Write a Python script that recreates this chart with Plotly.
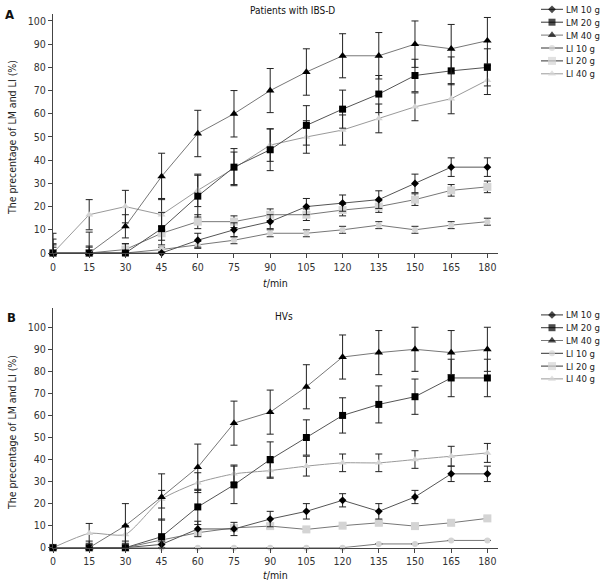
import plotly.graph_objects as go

# ---------------- data ----------------
time_min = [0, 15, 30, 45, 60, 75, 90, 105, 120, 135, 150, 165, 180]
series_names = ["LM 10 g", "LM 20 g", "LM 40 g", "LI 10 g", "LI 20 g", "LI 40 g"]

# Panel A: patients with IBS-D (mean, SD)
ibs_lm10 = [0, 0, 0, 0, 5.5, 10, 13.5, 20, 21.5, 23, 30, 37, 37]
ibs_lm10_sd = [2.5, 0, 0, 0, 3, 3, 3, 3.5, 3.5, 3.8, 4, 4, 4]
ibs_lm20 = [0, 0, 0, 10.5, 24.5, 37, 44.5, 55, 62, 68.5, 76.5, 78.5, 80]
ibs_lm20_sd = [4, 3, 4, 7, 9, 8, 9, 8.5, 8.2, 8, 7, 6, 8]
ibs_lm40 = [0, 0, 11.5, 33, 51.5, 60, 70, 78, 85, 85, 90, 88, 91.5]
ibs_lm40_sd = [6, 9, 5, 10, 10, 10, 9.5, 10, 9.5, 10, 10, 10.5, 10]
ibs_li10 = [0, 0, 0, 1.5, 3.5, 5.5, 8.5, 8.5, 10, 12, 10, 12, 13.5]
ibs_li10_sd = [0, 0, 0, 1, 1.5, 1.5, 1.5, 1.5, 1.5, 1.5, 1.5, 1.5, 1.5]
ibs_li20 = [0, 0, 1.5, 8.5, 13.5, 13.5, 16.5, 16.5, 18.5, 20, 23, 27, 28.5]
ibs_li20_sd = [3.5, 2.5, 2.5, 3, 3, 2.5, 2.5, 2.5, 2.5, 2.5, 2.5, 2.5, 2.5]
ibs_li40 = [0, 16.5, 20, 16.5, 27, 36.5, 46.5, 50, 53, 58, 63, 66.5, 74.5]
ibs_li40_sd = [8.5, 6.5, 7, 7, 7, 7, 7, 7, 6.5, 6.2, 6, 6.5, 6.2]

# Panel B: healthy volunteers (mean, SD)
hv_lm10 = [0, 0, 0, 1.5, 8.5, 8.5, 13, 16.5, 21.5, 16.5, 23, 33.5, 33.5]
hv_lm10_sd = [0, 3, 3, 1.5, 3.5, 3, 3.5, 3.5, 3, 3.5, 3, 3.5, 3.5]
hv_lm20 = [0, 0, 0, 5, 18.5, 28.5, 40, 50, 60, 65, 68.5, 77, 77]
hv_lm20_sd = [0, 0, 0, 8, 8, 8.5, 8, 8, 8, 8.4, 8, 8.5, 8.5]
hv_lm40 = [0, 0, 10, 23, 36.5, 56.5, 61.5, 73, 86.5, 88.5, 90, 88.5, 90]
hv_lm40_sd = [0, 0, 10, 10.5, 10.5, 10, 10, 10, 10, 10, 10, 10, 10]
hv_li10 = [0, 0, 0, 0, 0, 0, 0, 0, 0, 1.7, 1.7, 3.3, 3.3]
hv_li10_sd = [0, 0, 0, 0, 0, 0, 0, 0, 0, 0, 0, 0, 0]
hv_li20 = [0, 0, 0, 3.5, 6.8, 9, 9.8, 8.3, 10, 11.3, 9.8, 11.3, 13.3]
hv_li20_sd = [0, 0, 0, 1, 1, 1, 1, 1, 1, 1, 1, 1, 1]
hv_li40 = [0, 6.5, 6, 22, 29.5, 33.5, 35, 37, 38.5, 38.5, 40, 41.5, 43]
hv_li40_sd = [0, 4.5, 4, 4, 4.5, 4, 3.5, 4.5, 4, 4, 4, 4.5, 4.3]

y_ticks = list(range(0, 101, 10))

# ---------------- styles ----------------
FONT = "DejaVu Sans Condensed, DejaVu Sans, sans-serif"
styles = [
    dict(symbol="diamond", size=6, color="#000000", line="#555555"),
    dict(symbol="square", size=7, color="#000000", line="#555555"),
    dict(symbol="triangle-up", size=7.5, color="#000000", line="#777777"),
    dict(symbol="circle", size=6, color="#d4d4d4", line="#777777"),
    dict(symbol="square", size=8, color="#d4d4d4", line="#777777"),
    dict(symbol="triangle-up", size=7, color="#d4d4d4", line="#9a9a9a"),
]

panels = [
    ("x", "y", [(ibs_lm10, ibs_lm10_sd), (ibs_lm20, ibs_lm20_sd), (ibs_lm40, ibs_lm40_sd),
                (ibs_li10, ibs_li10_sd), (ibs_li20, ibs_li20_sd), (ibs_li40, ibs_li40_sd)], False),
    ("x2", "y2", [(hv_lm10, hv_lm10_sd), (hv_lm20, hv_lm20_sd), (hv_lm40, hv_lm40_sd),
                  (hv_li10, hv_li10_sd), (hv_li20, hv_li20_sd), (hv_li40, hv_li40_sd)], True),
]

fig = go.Figure()
draw_order = [3, 4, 5, 0, 1, 2]
for xa, ya, data, smooth_li40 in panels:
    for i in draw_order:
        vals, sd = data[i]
        st = styles[i]
        shape = "spline" if (smooth_li40 and i == 5) else "linear"
        fig.add_trace(go.Scatter(
            x=time_min, y=vals, xaxis=xa, yaxis=ya, mode="lines+markers",
            name=series_names[i], showlegend=False, cliponaxis=False,
            line=dict(color=st["line"], width=1, shape=shape, smoothing=0.6),
            marker=dict(symbol=st["symbol"], size=st["size"], color=st["color"],
                        line=dict(width=0)),
            error_y=dict(type="data", array=sd, visible=True, color="#222222",
                         thickness=1, width=3.5),
        ))

# custom legends (one per panel) on helper axes
for xa, ya in [("x3", "y3"), ("x4", "y4")]:
    for i, name in enumerate(series_names):
        st = styles[i]
        fig.add_trace(go.Scatter(
            x=[6, 17, 28], y=[i, i, i], xaxis=xa, yaxis=ya, mode="lines+markers",
            showlegend=False, hoverinfo="skip", cliponaxis=False,
            line=dict(color=st["line"] if i in (2, 5) else "#333333", width=1),
            marker=dict(symbol=st["symbol"], size=[0, st["size"], 0], color=st["color"],
                        line=dict(width=0)),
        ))
        fig.add_annotation(x=30, y=i, xref=xa, yref=ya, text=name, showarrow=False,
                           xanchor="left", yanchor="middle", borderpad=0,
                           font=dict(family=FONT, size=9.5, color="#222222"))

W, H = 609, 587
def py(p):
    return 1 - p / H

axis_common = dict(showline=True, linecolor="#444444", linewidth=1, ticks="outside",
                   ticklen=4, tickcolor="#444444", showgrid=False, zeroline=False,
                   automargin=False,
                   tickfont=dict(family=FONT, size=10.5, color="#333333"))
xdom = [53 / W, 498 / W]
fig.update_layout(
    template="none",
    width=W, height=H, margin=dict(l=0, r=0, t=0, b=0, autoexpand=False),
    paper_bgcolor="white", plot_bgcolor="white",
    xaxis=dict(domain=xdom, anchor="y", range=[0, 184.4], tickvals=time_min, **axis_common),
    yaxis=dict(domain=[py(253), py(14)], anchor="x", range=[0, 103], tickvals=y_ticks, **axis_common),
    xaxis2=dict(domain=xdom, anchor="y2", range=[0, 184.4], tickvals=time_min, **axis_common),
    yaxis2=dict(domain=[py(547.7), py(308.3)], anchor="x2", range=[0, 108.6], tickvals=y_ticks, **axis_common),
    xaxis3=dict(domain=[535 / W, 1], anchor="y3", range=[0, 74], visible=False, automargin=False),
    yaxis3=dict(domain=[py(85), py(0)], anchor="x3", range=[5.868, -0.721], visible=False, automargin=False),
    xaxis4=dict(domain=[535 / W, 1], anchor="y4", range=[0, 74], visible=False, automargin=False),
    yaxis4=dict(domain=[py(390), py(305)], anchor="x4", range=[5.868, -0.775], visible=False, automargin=False),
    showlegend=False,
)

texts = [
    dict(x=9 / W, y=py(14), text="<b>A</b>", size=13),
    dict(x=11 / W, y=py(317), text="<b>B</b>", size=13),
    dict(x=292 / W, y=py(10), text="Patients with IBS-D", size=10),
    dict(x=284 / W, y=py(316), text="HVs", size=10),
    dict(x=275 / W, y=py(283), text="<i>t</i>/min", size=10.5),
    dict(x=275 / W, y=py(575), text="<i>t</i>/min", size=10.5),
]
for t in texts:
    fig.add_annotation(x=t["x"], y=t["y"], xref="paper", yref="paper", text=t["text"],
                       showarrow=False, xanchor="center", yanchor="middle",
                       font=dict(family=FONT, size=t["size"], color="#111111"))
for yc in (138, 433):
    fig.add_annotation(x=12 / W, y=py(yc), xref="paper", yref="paper",
                       text="The precentage of LM and LI (%)", textangle=-90,
                       showarrow=False, xanchor="center", yanchor="middle",
                       font=dict(family=FONT, size=10.5, color="#222222"))

fig.write_html("out.html", config={"displayModeBar": False},
               post_script="document.body.style.margin='0';document.body.style.overflow='hidden';")
